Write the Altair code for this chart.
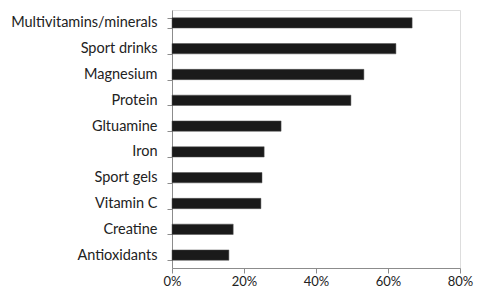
import altair as alt
import pandas as pd

categories = ["Multivitamins/minerals", "Sport drinks", "Magnesium", "Protein", "Gltuamine",
              "Iron", "Sport gels", "Vitamin C", "Creatine", "Antioxidants"]
values = [0.667, 0.622, 0.533, 0.497, 0.303, 0.256, 0.250, 0.247, 0.170, 0.158]

df = pd.DataFrame({"cat": categories, "val": values})

chart = alt.Chart(df).mark_bar(color="#1a1a1a", stroke="#555555", strokeWidth=0.5).encode(
    x=alt.X("val:Q", scale=alt.Scale(domain=[0, 0.8], nice=False),
            axis=alt.Axis(format=".0%", values=[0, 0.2, 0.4, 0.6, 0.8], grid=False, title=None,
                          domainColor="#8c8c8c", tickColor="#8c8c8c", tickSize=5,
                          labelFont="Lato", labelFontSize=13, labelColor="#222222",
                          labelPadding=2, labelFlush=False)),
    y=alt.Y("cat:N", sort=categories,
            scale=alt.Scale(paddingInner=0.6, paddingOuter=0.3),
            axis=alt.Axis(title=None, grid=False, domainColor="#8c8c8c", tickColor="#8c8c8c",
                          tickSize=5, tickBand="extent", labelFont="Lato", labelFontSize=14.5,
                          labelColor="#222222", labelPadding=10)),
).properties(
    width=288, height=258,
    autosize=alt.AutoSizeParams(type="none"),
    padding={"left": 164, "top": 2, "right": 14, "bottom": 22},
).configure_view(stroke=None).configure(background="white")

chart.save("out.html", embed_options={"renderer": "svg", "actions": False})
